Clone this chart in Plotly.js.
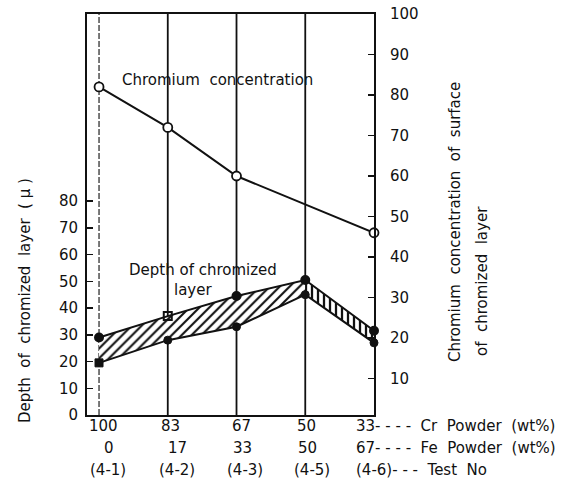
<!DOCTYPE html>
<html>
<head>
<meta charset="utf-8">
<script src="https://cdn.plot.ly/plotly-3.0.1.min.js"></script>
<style>
  html, body { margin: 0; padding: 0; background: #fff; }
  #chart { width: 577px; height: 486px; }
</style>
</head>
<body>
<div id="chart"></div>
<script>
// Test positions along the x axis (one per powder mix)
const testIndex = [0, 1, 2, 3, 4];
const crPowder = ['100', '83', '67', '50', '33'];
const fePowder = ['0', '17', '33', '50', '67'];
const testNo = ['(4-1)', '(4-2)', '(4-3)', '(4-5)', '(4-6)'];

// Depth of chromized layer (μ): upper and lower bounds of the band
const depthUpper = [29, 37, 44.5, 50.5, 31.5];
const depthLower = [19.5, 28, 33, 45, 27];

// Chromium concentration of surface (right axis); no reading for (4-5)
const crConc = [82, 72, 60, null, 46];

// Row suffixes for the last column of the x labels
const rowSuffix = ['- - - -  Cr  Powder  (wt%)', '- - - -  Fe  Powder  (wt%)', '- - -  Test  No'];

const FONT = 'DejaVu Sans, sans-serif';
const INK = '#111';

// Band split: diagonal hatch up to (4-5), ladder hatch from (4-5) to (4-6)
const splitAt = 3;
const xA = testIndex.slice(0, splitAt + 1);
const xB = testIndex.slice(splitAt);

const bandLine = { color: 'rgba(0,0,0,0)', width: 0 };

const traces = [
  { x: xA, y: depthLower.slice(0, splitAt + 1), mode: 'lines', line: bandLine, hoverinfo: 'skip', showlegend: false },
  { x: xA, y: depthUpper.slice(0, splitAt + 1), mode: 'lines', line: bandLine, fill: 'tonexty',
    fillcolor: 'white',
    fillpattern: { shape: '/', fgcolor: INK, bgcolor: 'white', size: 7, solidity: 0.3 },
    hoverinfo: 'skip', showlegend: false },
  { x: xB, y: depthLower.slice(splitAt), mode: 'lines', line: bandLine, hoverinfo: 'skip', showlegend: false },
  { x: xB, y: depthUpper.slice(splitAt), mode: 'lines', line: bandLine, fill: 'tonexty',
    fillcolor: 'white',
    fillpattern: { shape: '|', fgcolor: INK, bgcolor: 'white', size: 6, solidity: 0.38 },
    hoverinfo: 'skip', showlegend: false },
  { x: testIndex, y: depthUpper, mode: 'lines+markers', showlegend: false, cliponaxis: false,
    line: { color: INK, width: 2 },
    marker: { color: INK, size: 8, symbol: ['circle', 'square-open', 'circle', 'circle', 'circle'],
              line: { color: INK, width: 2 } } },
  { x: testIndex, y: depthLower, mode: 'lines+markers', showlegend: false, cliponaxis: false,
    line: { color: INK, width: 2 },
    marker: { color: INK, size: 8, symbol: ['square', 'circle', 'circle', 'circle', 'circle'],
              line: { color: INK, width: 1 } } },
  { x: testIndex, y: crConc, yaxis: 'y2', mode: 'lines+markers', connectgaps: true, showlegend: false,
    cliponaxis: false,
    line: { color: INK, width: 2 },
    marker: { color: 'white', size: 9, symbol: 'circle', line: { color: INK, width: 1.8 } } }
];

// Vertical guide line at every test position (first one dashed)
const shapes = testIndex.slice(0, -1).map((xi, i) => ({
  type: 'line', xref: 'x', yref: 'paper', x0: xi, x1: xi, y0: 0, y1: 1,
  line: { color: i === 0 ? '#333' : INK, width: i === 0 ? 1.3 : 1.8, dash: i === 0 ? '6px,2px' : 'solid' },
  layer: 'below'
}));

const txtFont = { family: FONT, size: 15, color: INK };
const annotations = [];
const last = testIndex.length - 1;
const rows = [crPowder, fePowder, testNo];
const rowShift = [-11, -33, -55];
const colShift = [[4, 3, 5, 1], [10, 10, 6, 2], [9, 9, 8, 7]];
rows.forEach((row, r) => {
  row.forEach((txt, i) => {
    if (i < last) {
      annotations.push({ x: testIndex[i], y: 0, xref: 'x', yref: 'paper', text: txt,
        showarrow: false, xanchor: 'center', yanchor: 'middle', yshift: rowShift[r], xshift: colShift[r][i],
        font: txtFont });
    } else {
      annotations.push({ x: testIndex[i], y: 0, xref: 'x', yref: 'paper', text: txt + rowSuffix[r],
        showarrow: false, xanchor: 'left', yanchor: 'middle', yshift: rowShift[r], xshift: -20,
        font: txtFont });
    }
  });
});

// Free text placed in pixel offsets from the plot's bottom-left corner
function label(text, px, py, angle) {
  return { text: text, xref: 'paper', yref: 'paper', x: 0, y: 0,
    xanchor: 'center', yanchor: 'middle', xshift: px, yshift: py,
    textangle: angle || 0, showarrow: false, font: txtFont };
}
annotations.push(
  label('Chromium  concentration', 130, 335),
  label('Depth of chromized', 116, 145),
  label('layer', 106, 125),
  label('Depth  of  chromized  layer  ( μ )', -62, 114, -90),
  label('Chromium  concentration  of  surface', 368, 193, -90),
  label('of  chromized  layer', 395, 134, -90)
);

const layout = {
  width: 577, height: 486,
  margin: { l: 87, r: 203, t: 14, b: 71 },
  paper_bgcolor: 'white', plot_bgcolor: 'white',
  showlegend: false,
  font: { family: FONT, size: 15, color: INK },
  xaxis: {
    range: [-0.175, 4], showgrid: false, zeroline: false, showticklabels: false, ticks: '',
    showline: true, linecolor: INK, linewidth: 2, mirror: true, fixedrange: true
  },
  yaxis: {
    range: [0, 150], tickvals: [0, 10, 20, 30, 40, 50, 60, 70, 80],
    ticks: 'inside', ticklen: 6, tickwidth: 1.5, tickcolor: INK,
    showgrid: false, zeroline: false, showline: true, linecolor: INK, linewidth: 2,
    ticklabelstandoff: 4, tickfont: txtFont
  },
  yaxis2: {
    overlaying: 'y', side: 'right', range: [1, 100],
    tickvals: [10, 20, 30, 40, 50, 60, 70, 80, 90, 100],
    ticks: 'inside', ticklen: 6, tickwidth: 1.5, tickcolor: INK,
    showgrid: false, zeroline: false, showline: true, linecolor: INK, linewidth: 2,
    ticklabelstandoff: 11, tickfont: txtFont
  },
  shapes: shapes,
  annotations: annotations
};

Plotly.newPlot('chart', traces, layout, { staticPlot: true, displayModeBar: false });
</script>
</body>
</html>
